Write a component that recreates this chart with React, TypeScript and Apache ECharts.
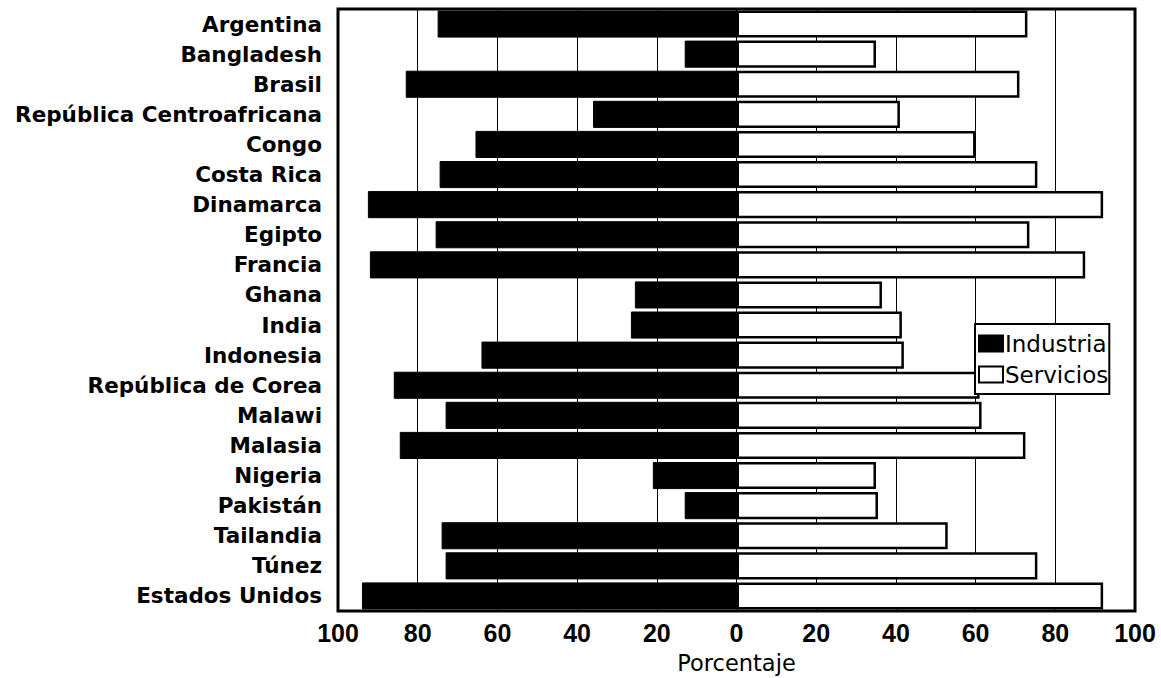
import React, { useEffect, useRef } from "react";
import * as echarts from "echarts";

const countries = [
  "Argentina",
  "Bangladesh",
  "Brasil",
  "República Centroafricana",
  "Congo",
  "Costa Rica",
  "Dinamarca",
  "Egipto",
  "Francia",
  "Ghana",
  "India",
  "Indonesia",
  "República de Corea",
  "Malawi",
  "Malasia",
  "Nigeria",
  "Pakistán",
  "Tailandia",
  "Túnez",
  "Estados Unidos",
];

const industria = [75, 13, 83, 36, 65.5, 74.5, 92.5, 75.5, 92, 25.5, 26.5, 64, 86, 73, 84.5, 21, 13, 74, 73, 94];
const servicios = [73, 35, 71, 41, 60, 75.5, 92, 73.5, 87.5, 36.5, 41.5, 42, 61, 61.5, 72.5, 35, 35.5, 53, 75.5, 92];

const xTicks = { min: -100, max: 100, interval: 20 };

export default function App() {
  const ref = useRef<HTMLDivElement>(null);
  useEffect(() => {
    if (!ref.current) return;
    const chart = echarts.init(ref.current, null, { renderer: "svg" });
    const font = "'Liberation Sans', Arial, Helvetica, sans-serif";
    const wide = "'DejaVu Sans', Verdana, sans-serif";
    chart.setOption({
      animation: false,
      backgroundColor: "#ffffff",
      textStyle: { fontFamily: font },
      grid: {
        left: 338,
        right: 26,
        top: 9,
        bottom: 67,
        outerBoundsMode: "none",
        containLabel: false,
        show: true,
        borderColor: "#000",
        borderWidth: 3,
        backgroundColor: "transparent",
      },
      legend: {
        orient: "vertical",
        left: 975,
        top: 324,
        itemWidth: 24,
        itemHeight: 16,
        itemGap: 8,
        padding: [8, 1, 8, 3],
        backgroundColor: "#fff",
        borderColor: "#000",
        borderWidth: 2,
        borderRadius: 0,
        icon: "rect",
        textStyle: { fontSize: 23, color: "#000", fontFamily: wide, padding: [0, 0, 0, -3] },
        data: ["Industria", "Servicios"],
      },
      xAxis: {
        type: "value",
        min: xTicks.min,
        max: xTicks.max,
        interval: xTicks.interval,
        name: "Porcentaje",
        nameLocation: "middle",
        nameGap: 40,
        nameTextStyle: { fontSize: 22.5, color: "#000", fontFamily: wide },
        axisLine: { show: false },
        axisTick: { show: false },
        axisLabel: {
          fontSize: 25,
          fontWeight: "bold",
          color: "#000",
          margin: 9,
          formatter: (v: number) => String(Math.abs(v)),
        },
        splitLine: { show: true, lineStyle: { color: "#000", width: 1 } },
      },
      yAxis: {
        type: "category",
        inverse: true,
        data: countries,
        axisLine: { show: false },
        axisTick: { show: false },
        axisLabel: {
          fontSize: 21.5,
          fontWeight: "bold",
          fontFamily: wide,
          color: "#000",
          margin: 16,
        },
        splitLine: { show: false },
      },
      series: [
        {
          name: "Industria",
          type: "bar",
          stack: "total",
          barCategoryGap: "10%",
          data: industria.map((v) => -v),
          itemStyle: { color: "#000", borderColor: "#000", borderWidth: 1 },
        },
        {
          name: "Servicios",
          type: "bar",
          stack: "total",
          barCategoryGap: "10%",
          data: servicios,
          itemStyle: { color: "#fff", borderColor: "#000", borderWidth: 2.5 },
        },
      ],
    });
    return () => chart.dispose();
  }, []);
  return <div ref={ref} style={{ width: 1161, height: 678, position: "absolute", left: 0, top: 0 }} />;
}
